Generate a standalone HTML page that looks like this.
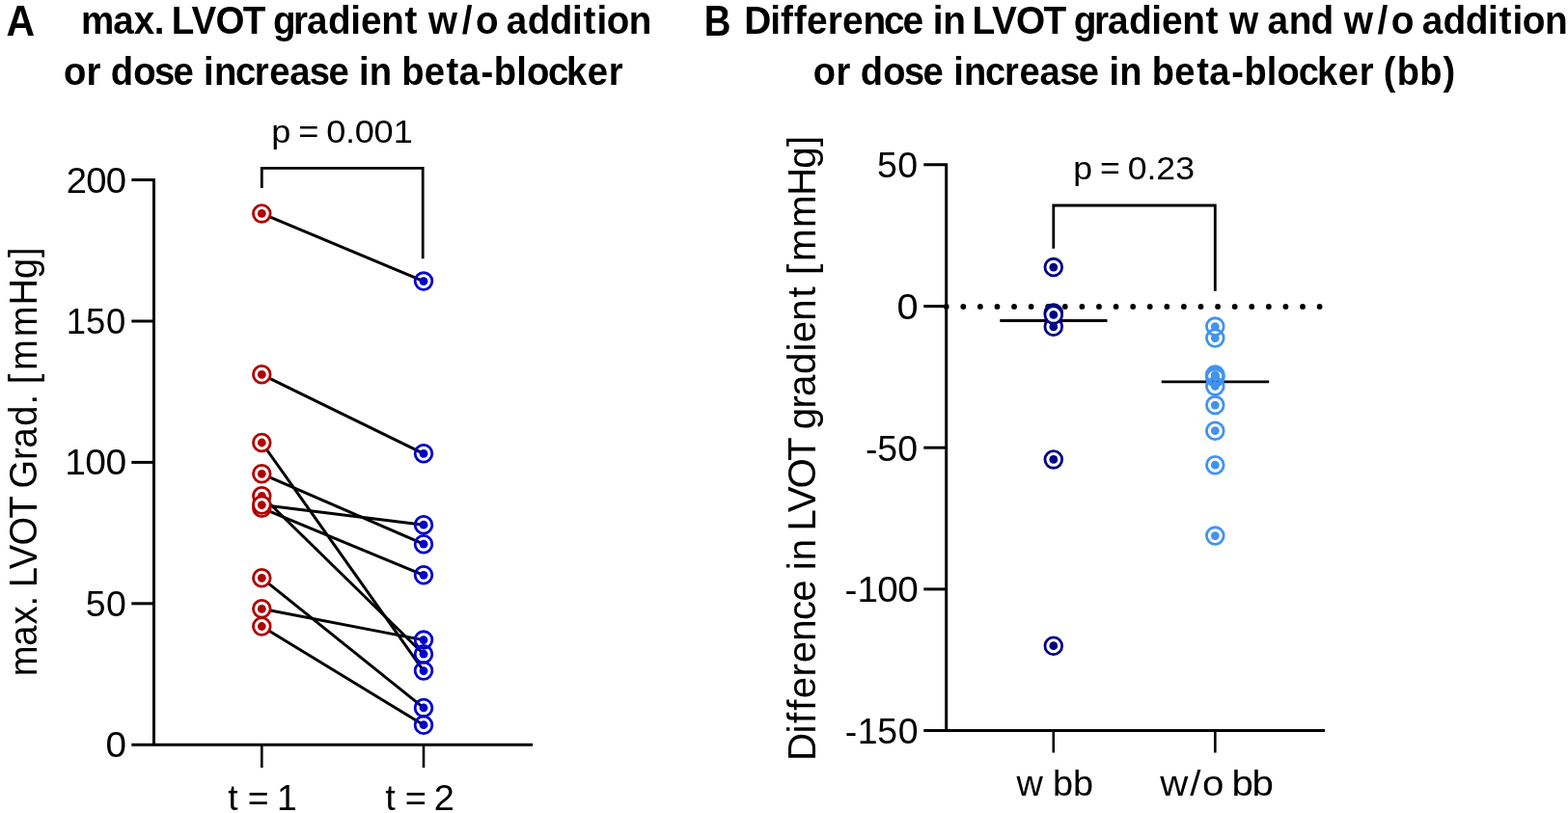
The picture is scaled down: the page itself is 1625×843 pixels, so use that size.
<!DOCTYPE html><html><head><meta charset="utf-8"><title>LVOT gradient</title><style>html,body{margin:0;padding:0;background:#fff;overflow:hidden}svg{display:block}</style></head><body>
<svg width="1625" height="843" viewBox="0 0 1625 843" font-family='"Liberation Sans", Arial, sans-serif' style="font-kerning:none;font-variant-ligatures:none">
<rect width="1625" height="843" fill="#fff"/>
<text id="tA" x="6.50" y="36.60" font-size="43.8" font-weight="bold" textLength="29.60" lengthAdjust="spacingAndGlyphs">A</text>
<text id="tB" x="729.70" y="36.60" font-size="43.8" font-weight="bold" textLength="27.70" lengthAdjust="spacingAndGlyphs">B</text>
<text id="ti1" transform="translate(0 35.0) scale(0.9407 1)" x="89.40 124.77 147.58 169.83 181.59 189.06 210.92 237.53 267.58 291.38 300.75 323.22 338.18 361.44 386.23 397.50 420.25 445.82 460.66 471.99 508.98 524.15 548.91 557.94 581.20 605.63 630.42 642.66 657.38 668.40 692.96" y="0" font-size="41.0" font-weight="bold">max. LVOT gradient w/o addition</text>
<text id="ti2" transform="translate(0 87.6) scale(0.9323 1)" x="70.74 96.09 112.53 122.99 148.36 171.55 192.50 215.79 226.44 238.07 261.66 282.91 299.66 322.01 344.15 365.10 388.39 399.04 410.68 435.66 446.51 471.73 496.20 510.34 534.79 549.02 574.02 585.52 609.24 629.74 653.08 676.60" y="0" font-size="41.0" font-weight="bold">or dose increase in beta-blocker</text>
<text id="tiB1" transform="translate(0 35.0) scale(0.9469 1)" x="814.45 843.13 854.50 868.84 883.00 905.81 921.91 944.55 967.38 988.00 1010.89 1020.99 1032.01 1056.58 1063.96 1085.71 1112.18 1142.10 1165.85 1175.12 1197.50 1212.37 1235.52 1260.22 1271.41 1294.05 1319.53 1334.33 1345.53 1378.34 1387.27 1410.69 1434.73 1459.58 1470.78 1507.64 1522.71 1547.41 1556.34 1579.49 1603.81 1628.51 1640.69 1655.34 1666.27 1690.72" y="0" font-size="41.0" font-weight="bold">Difference in LVOT gradient w and w/o addition</text>
<text id="tiB2" transform="translate(0 87.6) scale(0.9277 1)" x="908.52 934.02 950.51 961.13 986.67 1010.00 1031.09 1054.46 1065.22 1076.98 1100.71 1122.09 1138.96 1161.47 1183.75 1204.85 1228.22 1238.97 1250.74 1275.81 1286.81 1312.19 1336.79 1351.06 1375.64 1390.00 1415.13 1426.75 1450.62 1471.27 1494.75 1518.41 1534.90 1545.41 1560.60 1585.93 1612.12" y="0" font-size="41.0" font-weight="bold">or dose increase in beta-blocker (bb)</text>
<path d="M136.3 186.60 H159.5 V772.2 M136.3 772.2 H552" fill="none" stroke="#000" stroke-width="3.0"/>
<line x1="136.3" y1="333.00" x2="159.5" y2="333.00" stroke="#000" stroke-width="3.0"/>
<line x1="136.3" y1="479.40" x2="159.5" y2="479.40" stroke="#000" stroke-width="3.0"/>
<line x1="136.3" y1="625.80" x2="159.5" y2="625.80" stroke="#000" stroke-width="3.0"/>
<line x1="271.3" y1="772.2" x2="271.3" y2="796" stroke="#000" stroke-width="2.6"/>
<line x1="439.0" y1="772.2" x2="439.0" y2="796" stroke="#000" stroke-width="2.6"/>
<text id="yA200" transform="translate(0 199.5) scale(1.0542 1)" x="65.15 84.63 104.17" y="0" font-size="36.3">200</text>
<text id="yA150" transform="translate(0 346.0) scale(1.0043 1)" x="68.55 88.60 109.48" y="0" font-size="36.3">150</text>
<text id="yA100" transform="translate(0 492.4) scale(1.0751 1)" x="62.52 82.06 101.91" y="0" font-size="36.3">100</text>
<text id="yA50" transform="translate(0 638.8) scale(1.0319 1)" x="86.04 106.71" y="0" font-size="36.3">50</text>
<text id="yA0" transform="translate(0 785.3) scale(1.0661 1)" x="102.70" y="0" font-size="36.3">0</text>
<text id="xt1" transform="translate(0 839.6) scale(1.0300 1)" x="229.28 241.07 249.16 269.55 278.64" y="0" font-size="36.3">t = 1</text>
<text id="xt2" transform="translate(0 839.6) scale(1.0470 1)" x="381.43 393.10 400.83 421.04 429.49" y="0" font-size="36.3">t = 2</text>
<text id="ylA" transform="translate(38.2 699.7) rotate(-90) scale(0.9528 1)" x="-1.59 31.52 54.69 74.71 86.03 94.93 114.99 140.75 170.22 193.51 202.74 233.77 246.79 270.62 294.18 305.50 316.48 331.40 367.73 402.10 431.07 454.26" y="0" font-size="40.0">max. LVOT Grad. [mmHg]</text>
<text id="pA" transform="translate(0 148.2) scale(1.0958 1)" x="256.74 275.04 282.30 300.79 308.67 326.74 335.67 353.69 372.00" y="0" font-size="33.0">p = 0.001</text>
<path d="M271.3 195 V174.4 H438.2 V268.2" fill="none" stroke="#000" stroke-width="2.8"/>
<line x1="271.3" y1="221.4" x2="439.0" y2="291.6" stroke="#000" stroke-width="3"/>
<line x1="271.3" y1="388.3" x2="439.0" y2="470.3" stroke="#000" stroke-width="3"/>
<line x1="271.3" y1="459.0" x2="439.0" y2="695.6" stroke="#000" stroke-width="3"/>
<line x1="271.3" y1="491.3" x2="439.0" y2="564.2" stroke="#000" stroke-width="3"/>
<line x1="271.3" y1="514.3" x2="439.0" y2="678.2" stroke="#000" stroke-width="3"/>
<line x1="271.3" y1="523.6" x2="439.0" y2="544.2" stroke="#000" stroke-width="3"/>
<line x1="271.3" y1="526.8" x2="439.0" y2="596.3" stroke="#000" stroke-width="3"/>
<line x1="271.3" y1="599.3" x2="439.0" y2="733.9" stroke="#000" stroke-width="3"/>
<line x1="271.3" y1="631.3" x2="439.0" y2="663.6" stroke="#000" stroke-width="3"/>
<line x1="271.3" y1="649.5" x2="439.0" y2="751.7" stroke="#000" stroke-width="3"/>
<circle cx="439.0" cy="291.6" r="8.85" fill="none" stroke="#0000cd" stroke-width="2.8"/><circle cx="439.0" cy="291.6" r="4.4" fill="#0000cd"/>
<circle cx="439.0" cy="470.3" r="8.85" fill="none" stroke="#0000cd" stroke-width="2.8"/><circle cx="439.0" cy="470.3" r="4.4" fill="#0000cd"/>
<circle cx="439.0" cy="695.6" r="8.85" fill="none" stroke="#0000cd" stroke-width="2.8"/><circle cx="439.0" cy="695.6" r="4.4" fill="#0000cd"/>
<circle cx="439.0" cy="564.2" r="8.85" fill="none" stroke="#0000cd" stroke-width="2.8"/><circle cx="439.0" cy="564.2" r="4.4" fill="#0000cd"/>
<circle cx="439.0" cy="678.2" r="8.85" fill="none" stroke="#0000cd" stroke-width="2.8"/><circle cx="439.0" cy="678.2" r="4.4" fill="#0000cd"/>
<circle cx="439.0" cy="544.2" r="8.85" fill="none" stroke="#0000cd" stroke-width="2.8"/><circle cx="439.0" cy="544.2" r="4.4" fill="#0000cd"/>
<circle cx="439.0" cy="596.3" r="8.85" fill="none" stroke="#0000cd" stroke-width="2.8"/><circle cx="439.0" cy="596.3" r="4.4" fill="#0000cd"/>
<circle cx="439.0" cy="733.9" r="8.85" fill="none" stroke="#0000cd" stroke-width="2.8"/><circle cx="439.0" cy="733.9" r="4.4" fill="#0000cd"/>
<circle cx="439.0" cy="663.6" r="8.85" fill="none" stroke="#0000cd" stroke-width="2.8"/><circle cx="439.0" cy="663.6" r="4.4" fill="#0000cd"/>
<circle cx="439.0" cy="751.7" r="8.85" fill="none" stroke="#0000cd" stroke-width="2.8"/><circle cx="439.0" cy="751.7" r="4.4" fill="#0000cd"/>
<circle cx="271.3" cy="221.4" r="8.85" fill="#fff" stroke="#b00000" stroke-width="2.8"/><circle cx="271.3" cy="221.4" r="4.4" fill="#b00000"/>
<circle cx="271.3" cy="388.3" r="8.85" fill="#fff" stroke="#b00000" stroke-width="2.8"/><circle cx="271.3" cy="388.3" r="4.4" fill="#b00000"/>
<circle cx="271.3" cy="459.0" r="8.85" fill="#fff" stroke="#b00000" stroke-width="2.8"/><circle cx="271.3" cy="459.0" r="4.4" fill="#b00000"/>
<circle cx="271.3" cy="491.3" r="8.85" fill="#fff" stroke="#b00000" stroke-width="2.8"/><circle cx="271.3" cy="491.3" r="4.4" fill="#b00000"/>
<circle cx="271.3" cy="514.3" r="8.85" fill="#fff" stroke="#b00000" stroke-width="2.8"/><circle cx="271.3" cy="514.3" r="4.4" fill="#b00000"/>
<circle cx="271.3" cy="526.8" r="8.85" fill="#fff" stroke="#b00000" stroke-width="2.8"/><circle cx="271.3" cy="526.8" r="4.4" fill="#b00000"/>
<circle cx="271.3" cy="523.6" r="8.85" fill="#fff" stroke="#b00000" stroke-width="2.8"/><circle cx="271.3" cy="523.6" r="4.4" fill="#b00000"/>
<circle cx="271.3" cy="599.3" r="8.85" fill="#fff" stroke="#b00000" stroke-width="2.8"/><circle cx="271.3" cy="599.3" r="4.4" fill="#b00000"/>
<circle cx="271.3" cy="631.3" r="8.85" fill="#fff" stroke="#b00000" stroke-width="2.8"/><circle cx="271.3" cy="631.3" r="4.4" fill="#b00000"/>
<circle cx="271.3" cy="649.5" r="8.85" fill="#fff" stroke="#b00000" stroke-width="2.8"/><circle cx="271.3" cy="649.5" r="4.4" fill="#b00000"/>
<g fill="#000"><circle cx="980.70" cy="317.9" r="2.9"/><circle cx="998.29" cy="317.9" r="2.9"/><circle cx="1015.87" cy="317.9" r="2.9"/><circle cx="1033.46" cy="317.9" r="2.9"/><circle cx="1051.04" cy="317.9" r="2.9"/><circle cx="1068.63" cy="317.9" r="2.9"/><circle cx="1086.22" cy="317.9" r="2.9"/><circle cx="1103.80" cy="317.9" r="2.9"/><circle cx="1121.39" cy="317.9" r="2.9"/><circle cx="1138.97" cy="317.9" r="2.9"/><circle cx="1156.56" cy="317.9" r="2.9"/><circle cx="1174.15" cy="317.9" r="2.9"/><circle cx="1191.73" cy="317.9" r="2.9"/><circle cx="1209.32" cy="317.9" r="2.9"/><circle cx="1226.90" cy="317.9" r="2.9"/><circle cx="1244.49" cy="317.9" r="2.9"/><circle cx="1262.08" cy="317.9" r="2.9"/><circle cx="1279.66" cy="317.9" r="2.9"/><circle cx="1297.25" cy="317.9" r="2.9"/><circle cx="1314.83" cy="317.9" r="2.9"/><circle cx="1332.42" cy="317.9" r="2.9"/><circle cx="1350.01" cy="317.9" r="2.9"/><circle cx="1367.59" cy="317.9" r="2.9"/></g>
<path d="M957.3 170.80 H980.7 V757.60 M957.3 757.60 H1373" fill="none" stroke="#000" stroke-width="3.0"/>
<line x1="957.3" y1="317.50" x2="980.7" y2="317.50" stroke="#000" stroke-width="3.0"/>
<line x1="957.3" y1="464.20" x2="980.7" y2="464.20" stroke="#000" stroke-width="3.0"/>
<line x1="957.3" y1="610.90" x2="980.7" y2="610.90" stroke="#000" stroke-width="3.0"/>
<line x1="1091.8" y1="757.60" x2="1091.8" y2="780.5" stroke="#000" stroke-width="2.6"/>
<line x1="1259.3" y1="757.60" x2="1259.3" y2="780.5" stroke="#000" stroke-width="2.6"/>
<text id="yB50" transform="translate(0 184.0) scale(1.0319 1)" x="880.88 901.55" y="0" font-size="36.3">50</text>
<text id="yB0" transform="translate(0 330.8) scale(1.0949 1)" x="849.03" y="0" font-size="36.3">0</text>
<text id="yBm50" transform="translate(0 477.6) scale(1.0309 1)" x="870.08 881.97 902.38" y="0" font-size="36.3">-50</text>
<text id="yBm100" transform="translate(0 624.2) scale(1.0658 1)" x="821.54 833.64 853.08 872.84" y="0" font-size="36.3">-100</text>
<text id="yBm150" transform="translate(0 771.0) scale(1.0313 1)" x="849.25 861.90 881.74 902.40" y="0" font-size="36.3">-150</text>
<text id="xw" transform="translate(0 824.8) scale(1.0241 1)" x="1028.73 1056.14 1065.29 1085.91" y="0" font-size="37.0">w bb</text>
<text id="xwo" transform="translate(0 824.8) scale(1.0877 1)" x="1105.27 1133.78 1145.51 1165.53 1173.48 1192.86" y="0" font-size="37.0">w/o bb</text>
<text id="ylB" transform="translate(844.6 785.0) rotate(-90) scale(1.0079 1)" x="-3.93 24.36 34.71 47.99 60.16 82.96 97.00 119.35 140.97 159.95 181.86 192.23 202.14 224.57 232.57 251.73 276.29 304.65 327.47 337.18 358.71 371.00 393.86 417.25 426.47 448.82 472.81 485.83 496.06 509.92 544.70 577.70 605.59 628.07" y="0" font-size="40.0">Difference in LVOT gradient [mmHg]</text>
<text id="pB" transform="translate(0 186.3) scale(1.0810 1)" x="1028.90 1047.29 1054.69 1073.26 1081.28 1099.47 1108.55 1126.93" y="0" font-size="33.0">p = 0.23</text>
<path d="M1091.8 257.8 V213 H1259.3 V301.8" fill="none" stroke="#000" stroke-width="2.8"/>
<line x1="1036.3" y1="332.5" x2="1147.5" y2="332.5" stroke="#000" stroke-width="2.8"/>
<line x1="1203.7" y1="395.8" x2="1315.2" y2="395.8" stroke="#000" stroke-width="2.8"/>
<circle cx="1091.8" cy="277.1" r="8.85" fill="#fff" stroke="#000085" stroke-width="2.8"/><circle cx="1091.8" cy="277.1" r="4.4" fill="#000085"/>
<circle cx="1091.8" cy="338.8" r="8.85" fill="#fff" stroke="#000085" stroke-width="2.8"/><circle cx="1091.8" cy="338.8" r="4.4" fill="#000085"/>
<circle cx="1091.8" cy="324.5" r="8.85" fill="#fff" stroke="#000085" stroke-width="2.8"/><circle cx="1091.8" cy="324.5" r="4.4" fill="#000085"/>
<circle cx="1091.8" cy="326.4" r="8.85" fill="#fff" stroke="#000085" stroke-width="2.8"/><circle cx="1091.8" cy="326.4" r="4.4" fill="#000085"/>
<circle cx="1091.8" cy="476.4" r="8.85" fill="#fff" stroke="#000085" stroke-width="2.8"/><circle cx="1091.8" cy="476.4" r="4.4" fill="#000085"/>
<circle cx="1091.8" cy="669.7" r="8.85" fill="#fff" stroke="#000085" stroke-width="2.8"/><circle cx="1091.8" cy="669.7" r="4.4" fill="#000085"/>
<circle cx="1259.3" cy="338.6" r="8.85" fill="none" stroke="#4193f0" stroke-width="2.8"/><circle cx="1259.3" cy="338.6" r="4.4" fill="#4193f0"/>
<circle cx="1259.3" cy="350.6" r="8.85" fill="none" stroke="#4193f0" stroke-width="2.8"/><circle cx="1259.3" cy="350.6" r="4.4" fill="#4193f0"/>
<circle cx="1259.3" cy="388.6" r="8.85" fill="none" stroke="#4193f0" stroke-width="2.8"/><circle cx="1259.3" cy="388.6" r="4.4" fill="#4193f0"/>
<circle cx="1259.3" cy="390.0" r="8.85" fill="none" stroke="#4193f0" stroke-width="2.8"/><circle cx="1259.3" cy="390.0" r="4.4" fill="#4193f0"/>
<circle cx="1259.3" cy="391.6" r="8.85" fill="none" stroke="#4193f0" stroke-width="2.8"/><circle cx="1259.3" cy="391.6" r="4.4" fill="#4193f0"/>
<circle cx="1259.3" cy="400.5" r="8.85" fill="none" stroke="#4193f0" stroke-width="2.8"/><circle cx="1259.3" cy="400.5" r="4.4" fill="#4193f0"/>
<circle cx="1259.3" cy="420.1" r="8.85" fill="none" stroke="#4193f0" stroke-width="2.8"/><circle cx="1259.3" cy="420.1" r="4.4" fill="#4193f0"/>
<circle cx="1259.3" cy="446.7" r="8.85" fill="none" stroke="#4193f0" stroke-width="2.8"/><circle cx="1259.3" cy="446.7" r="4.4" fill="#4193f0"/>
<circle cx="1259.3" cy="482.2" r="8.85" fill="none" stroke="#4193f0" stroke-width="2.8"/><circle cx="1259.3" cy="482.2" r="4.4" fill="#4193f0"/>
<circle cx="1259.3" cy="555.6" r="8.85" fill="none" stroke="#4193f0" stroke-width="2.8"/><circle cx="1259.3" cy="555.6" r="4.4" fill="#4193f0"/>
</svg>
</body></html>
